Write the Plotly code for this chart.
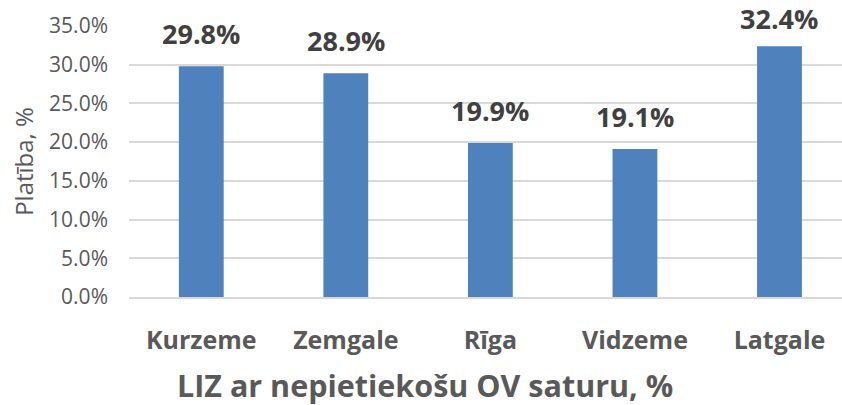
import plotly.graph_objects as go

categories = ["Kurzeme", "Zemgale", "Rīga", "Vidzeme", "Latgale"]
values = [0.298, 0.289, 0.199, 0.191, 0.324]
y_ticks = [0, 0.05, 0.10, 0.15, 0.20, 0.25, 0.30, 0.35]
label_shift = [12, 12, 12, 12, 7]

FONT = "Open Sans"
BAR = "#4F81BD"

fig = go.Figure()
fig.add_trace(go.Bar(
    x=categories, y=values, marker=dict(color=BAR, line=dict(width=0)),
    width=0.31, hoverinfo="skip",
))

for c, v, s in zip(categories, values, label_shift):
    fig.add_annotation(
        x=c, y=v, text=f"<b>{v*100:.1f}%</b>", showarrow=False,
        yanchor="bottom", yshift=s,
        font=dict(family=FONT, size=27, color="#404040"),
    )

fig.add_annotation(
    x=(425 - 129) / 713, y=0, xref="paper", yref="paper", xanchor="center", yanchor="top",
    yshift=-65, text="<b>LIZ ar nepietiekošu OV saturu, %</b>", showarrow=False,
    font=dict(family=FONT, size=30.5, color="#595959"),
)

fig.update_layout(
    width=842, height=405,
    margin=dict(l=129, r=0, t=25.5, b=108),
    paper_bgcolor="white", plot_bgcolor="white",
    showlegend=False,
)
fig.update_xaxes(
    range=[-0.5, 4.4325], showgrid=False, showline=True, linecolor="#D9D9D9", linewidth=1.5,
    tickfont=dict(family=FONT, size=25, color="#595959"),
    ticks="", ticklabelstandoff=20,
    tickvals=categories, ticktext=[f"<b>{c}</b>" for c in categories],
)
fig.update_yaxes(
    range=[0, 0.35], tickvals=y_ticks, tickformat=".1%",
    showgrid=True, gridcolor="#D9D9D9", gridwidth=1.5, zeroline=False,
    tickfont=dict(family=FONT, size=21, color="#595959"),
    ticks="", ticklabelstandoff=20,
    title=dict(text="Platība, %", font=dict(family=FONT, size=24, color="#595959"), standoff=8),
)

fig.write_html("out.html", config={"displayModeBar": False},
               post_script="document.body.style.margin='0';")
